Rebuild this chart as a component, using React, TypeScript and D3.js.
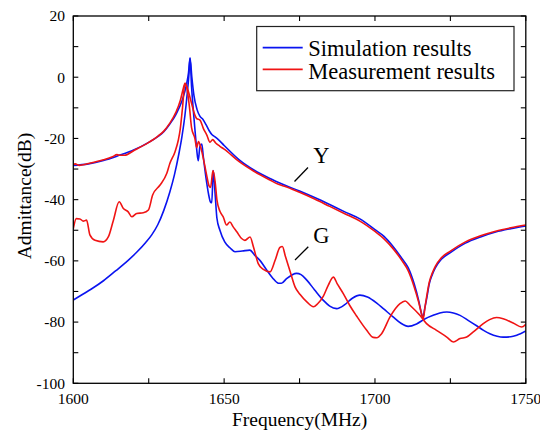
import React from "react";
import * as d3 from "d3";

// ---------- data ----------
const simYFreq = [1600,1605,1610,1615,1620,1625,1628,1630,1632,1634,1636,1637.5,1638.2,1638.7,1639.3,1640,1641,1642,1643,1644,1645,1646,1647,1648,1650,1655,1660,1665,1670,1675,1680,1685,1690,1695,1700,1703,1706,1709,1711,1713,1714.5,1715.5,1715.9,1716.5,1717.2,1718,1719,1720,1722,1725,1730,1735,1740,1745,1750];
const simYVal = [-28.8,-28.3,-27.2,-25.6,-23.8,-21.3,-19.4,-17.8,-15.3,-12.2,-7.8,-2.5,1.5,6.3,0,-6,-10.5,-12.8,-13.8,-15.5,-17.4,-18.8,-19.5,-20.3,-22.3,-27,-30.4,-33,-35.2,-37.2,-39.3,-41.6,-44,-46.3,-49.8,-52,-55.3,-59.3,-62.2,-67.5,-73,-77.5,-78.5,-75.5,-72,-67.5,-64.5,-62.3,-59.5,-57.3,-54.2,-52.2,-50.6,-49.5,-48.6];

const simGFreq = [1600,1603,1606,1610,1614,1618,1621,1624,1626,1628,1630,1632,1633.5,1635,1636,1637,1637.8,1638.3,1638.7,1639.2,1639.8,1640.4,1640.9,1641.4,1642,1642.6,1643.1,1644,1644.8,1645.5,1645.9,1646.4,1647,1647.6,1648.6,1650.2,1652,1653.6,1656,1658.5,1660.2,1662,1664.1,1666,1668,1669,1670.7,1672.5,1674,1675.5,1677.4,1680,1682.9,1685,1687.3,1690,1692.5,1695,1697.5,1700.6,1703,1706,1708.5,1711,1713.8,1716.5,1719.3,1721.5,1723.8,1726,1728.2,1731,1733.7,1736,1738.1,1740.5,1742.5,1745,1747,1750];
const simGVal = [-72.8,-71,-69.2,-66.5,-63.3,-60,-57.2,-54,-51.5,-48.2,-43.5,-37.5,-32,-25,-19.5,-12.5,-5,0.5,6.3,-3,-11,-18,-23.5,-27.3,-22.5,-21.8,-26,-33,-38,-40.8,-41,-30.5,-38,-46,-50,-53.8,-55.8,-57,-56.8,-56.5,-58.2,-60,-63,-65.5,-67.3,-67.3,-65.8,-64.6,-64.1,-64.5,-66.3,-69.5,-72.9,-74.8,-75.6,-74.3,-72.2,-71.2,-71.8,-73.8,-75.8,-78.3,-80.3,-81.4,-80.6,-79,-77.8,-77,-76.7,-77,-77.8,-79.5,-81.2,-82.7,-83.8,-84.6,-84.9,-84.8,-84.3,-82.9];

const measYFreq = [1600,1600.6,1602,1605,1610,1613,1614.5,1615.5,1617,1620,1625,1628,1630,1632,1634,1635.5,1636.5,1637,1637.5,1638.1,1639.2,1640.3,1640.9,1642,1643.1,1644.3,1645.3,1646.2,1647.2,1648.5,1650,1655,1660,1665,1668,1670,1675,1680,1685,1690,1695,1700,1703,1706,1709,1711,1713,1714.5,1715.5,1716,1716.6,1717.2,1718,1719,1720,1722,1725,1730,1735,1740,1745,1750];
const measYVal = [-28.6,-28.3,-28.8,-28.2,-27,-26,-25.3,-25.5,-25.5,-24,-21.3,-19.3,-17.6,-15,-11.5,-7.5,-3.5,-2,-2.8,-4.5,-8.5,-12.4,-13.5,-14,-16.7,-19,-21.2,-20.4,-21.5,-22.5,-23.5,-27.6,-30.8,-33.5,-35,-35.6,-37.6,-39.8,-42.2,-44.6,-47,-50.4,-52.8,-56,-60,-63.2,-68.5,-73.5,-77.5,-79,-75,-71.3,-67,-64,-61.8,-59,-56.8,-53.8,-51.8,-50.3,-49.2,-48.3];

const measGFreq = [1600,1601,1602.2,1603.3,1604.4,1605.5,1607.2,1609.9,1611.6,1613.3,1615.2,1616.6,1618.2,1619.4,1621,1623.2,1624.9,1626.3,1628.7,1631,1632,1633.7,1634.8,1635.4,1636.2,1637,1637.6,1638.5,1639.2,1640.3,1640.9,1641.5,1642.2,1643.1,1644.2,1645,1645.5,1646.3,1647,1647.6,1648.6,1649.7,1650.8,1651.9,1653,1654.2,1655.8,1656.9,1658.6,1659.7,1661.3,1663,1665.2,1666.9,1668.5,1669.3,1670.3,1671.8,1673.5,1675.2,1677.5,1679.6,1681,1682.9,1684.5,1686.2,1687.5,1689.5,1691.6,1693.9,1697.2,1699.4,1700.6,1702.2,1705,1708.3,1710,1711.6,1714.9,1717.1,1720.4,1723.8,1726,1728.2,1730.4,1732.6,1735.9,1738,1740.3,1742.5,1745.8,1748.6,1750];
const measGVal = [-49.5,-46.2,-46.3,-47,-46.7,-51.5,-53.3,-53.8,-52.2,-46.7,-40.7,-42.9,-44,-45.6,-44.5,-44.3,-43.4,-38.5,-35.3,-31.4,-28.2,-24.4,-20.6,-17.3,-10,-2,-3.3,-9.7,-16.5,-20,-23,-21,-22.7,-26.5,-32,-35.5,-36,-30.5,-34,-40,-43.8,-45.6,-48.3,-47.3,-48.9,-50.5,-52.7,-53.3,-52.2,-55.4,-60.9,-62.8,-63.6,-59.8,-55.6,-55.3,-58.5,-63.2,-68.5,-71,-73.5,-75,-74,-71.5,-68,-65.3,-67.5,-70.7,-74.5,-78,-82.6,-85,-85.1,-83.8,-78.3,-74,-73.1,-74.5,-77.8,-80.5,-82.7,-84.9,-86.5,-85.4,-84.9,-83.2,-80.5,-79.2,-78.5,-78.9,-80.3,-81.6,-80.7];

const xTicks = [1600, 1650, 1700, 1750];
const xMinor = [1625, 1675, 1725];
const yTicks = [20, 0, -20, -40, -60, -80, -100];
const yMinor = [10, -10, -30, -50, -70, -90];
const legendLabels = ["Simulation results", "Measurement results"];

// ---------- layout ----------
const W = 540, H = 437;
const L = 73.3, R = 525.8, T = 16, B = 383.3;
const BLUE = "#0a14f0";
const RED = "#f01414";
const FONT = "'Liberation Serif', 'Times New Roman', serif";

export default function App() {
  const x = d3.scaleLinear().domain([1600, 1750]).range([L, R]);
  const y = d3.scaleLinear().domain([-100, 20]).range([B, T]);
  const line = d3
    .line<[number, number]>()
    .x((d) => x(d[0]))
    .y((d) => y(d[1]))
    .curve(d3.curveMonotoneX);
  const mk = (f: number[], v: number[]) => line(f.map((ff, i) => [ff, v[i]] as [number, number])) || "";
  const tickLen = 5;

  return (
    <svg
      width={W}
      height={H}
      style={{ position: "absolute", left: 0, top: 0, background: "#fff" }}
      fontFamily={FONT}
    >
      <defs>
        <clipPath id="plot">
          <rect x={L} y={T} width={R - L} height={B - T} />
        </clipPath>
      </defs>
      <g clipPath="url(#plot)" fill="none" strokeWidth={1.6} strokeLinejoin="round">
        <path d={mk(simYFreq, simYVal)} stroke={BLUE} />
        <path d={mk(simGFreq, simGVal)} stroke={BLUE} />
        <path d={mk(measYFreq, measYVal)} stroke={RED} />
        <path d={mk(measGFreq, measGVal)} stroke={RED} />
      </g>
      {/* frame */}
      <rect x={L} y={T} width={R - L} height={B - T} fill="none" stroke="#000" strokeWidth={1.3} />
      {/* ticks */}
      <g stroke="#000" strokeWidth={1.1}>
        {[...xTicks, ...xMinor].map((t) => (
          <g key={"xt" + t}>
            <line x1={x(t)} x2={x(t)} y1={B} y2={B - tickLen} />
            <line x1={x(t)} x2={x(t)} y1={T} y2={T + tickLen} />
          </g>
        ))}
        {[...yTicks, ...yMinor].map((t) => (
          <g key={"yt" + t}>
            <line x1={L} x2={L + tickLen} y1={y(t)} y2={y(t)} />
            <line x1={R} x2={R - tickLen} y1={y(t)} y2={y(t)} />
          </g>
        ))}
      </g>
      {/* tick labels */}
      <g fontSize={15.5} fill="#000">
        {xTicks.map((t) => (
          <text key={"xl" + t} x={x(t)} y={404} textAnchor="middle">
            {t}
          </text>
        ))}
        {yTicks.map((t) => (
          <text key={"yl" + t} x={65} y={y(t) + 5.3} textAnchor="end">
            {t}
          </text>
        ))}
      </g>
      {/* axis titles */}
      <text x={299.6} y={426} fontSize={19.5} textAnchor="middle" fill="#000">
        Frequency(MHz)
      </text>
      <text
        transform={`translate(31,196) rotate(-90)`}
        fontSize={19.5}
        textAnchor="middle"
        fill="#000"
      >
        Admittance(dB)
      </text>
      {/* legend */}
      <rect x={256.7} y={26.5} width={257.3} height={64.2} fill="#fff" stroke="#222" strokeWidth={1.2} />
      <line x1={262.7} x2={302.7} y1={47.7} y2={47.7} stroke={BLUE} strokeWidth={1.8} />
      <line x1={262.7} x2={302.7} y1={69.3} y2={69.3} stroke={RED} strokeWidth={1.8} />
      <text x={308.3} y={55.7} fontSize={22.5} fill="#000">
        {legendLabels[0]}
      </text>
      <text x={308.3} y={79.3} fontSize={22.5} fill="#000">
        {legendLabels[1]}
      </text>
      {/* annotations */}
      <line x1={294.5} y1={181.5} x2={308} y2={167.5} stroke="#000" strokeWidth={1.3} />
      <text x={313.3} y={163.3} fontSize={22.5} fill="#000">Y</text>
      <line x1={295} y1={260} x2={308.3} y2={246.7} stroke="#000" strokeWidth={1.3} />
      <text x={313.3} y={243.3} fontSize={22.5} fill="#000">G</text>
    </svg>
  );
}
